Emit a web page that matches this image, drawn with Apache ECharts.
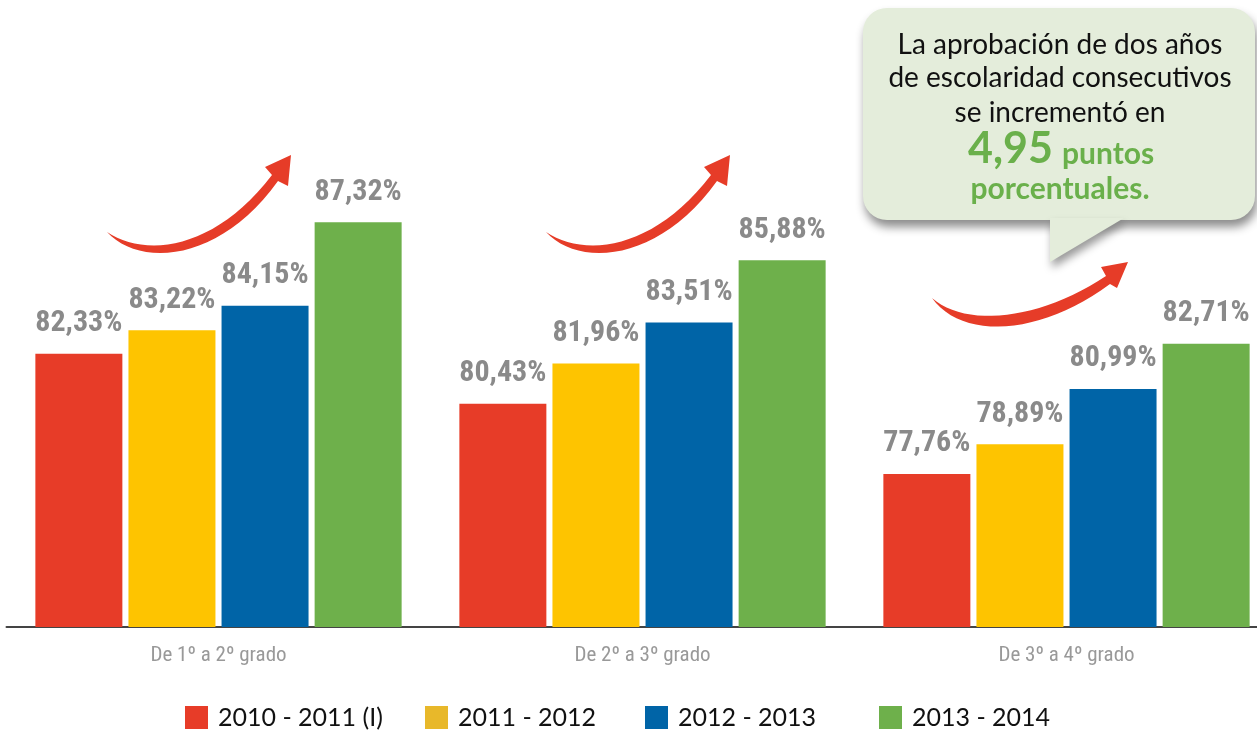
<!DOCTYPE html>
<html>
<head>
<meta charset="utf-8">
<script src="https://cdn.jsdelivr.net/npm/echarts@6/dist/echarts.min.js"></script>
<style>
  html, body { margin: 0; padding: 0; background: #fff; }
  #chart { width: 1257px; height: 731px; }
</style>
</head>
<body>
<div id="chart"></div>
<script>
var categories = ['De 1º a 2º grado', 'De 2º a 3º grado', 'De 3º a 4º grado'];
var seriesNames = ['2010 - 2011 (I)', '2011 - 2012', '2012 - 2013', '2013 - 2014'];
var seriesColors = ['#e73c28', '#fec400', '#0064a7', '#6eb04b'];
var legendColors = ['#e73c28', '#e8b82a', '#0064a7', '#6eb04b'];
var legendLeft = [185, 425, 645, 879];
var v2010 = [82.33, 80.43, 77.76];
var v2011 = [83.22, 81.96, 78.89];
var v2012 = [84.15, 83.51, 80.99];
var v2013 = [87.32, 85.88, 82.71];
var allValues = [v2010, v2011, v2012, v2013];

var narrow = "'Liberation Sans Narrow', 'Roboto Condensed', 'DejaVu Sans Condensed', sans-serif";
var plain = "'Lato', 'Open Sans', sans-serif";

function pct(p) {
    return p.value.toFixed(2).replace('.', ',') + '%';
}

// sample a cubic bezier into points (for the decorative arrows)
function bez(p0, p1, p2, p3) {
    var pts = [];
    for (var i = 0; i <= 24; i++) {
        var t = i / 24, u = 1 - t;
        pts.push([
            u * u * u * p0[0] + 3 * u * u * t * p1[0] + 3 * u * t * t * p2[0] + t * t * t * p3[0],
            u * u * u * p0[1] + 3 * u * u * t * p1[1] + 3 * u * t * t * p2[1] + t * t * t * p3[1]
        ]);
    }
    return pts;
}

function arrow(lower, head, upper, dx) {
    var pts = bez.apply(null, lower).concat(head).concat(bez.apply(null, upper));
    return {
        type: 'polygon',
        x: dx || 0,
        shape: { points: pts },
        style: { fill: '#e63c28' }
    };
}

var a1Lower = [[107, 232], [140, 268], [220, 262], [278, 181]];
var a1Head = [[288, 186], [291, 155], [265, 167]];
var a1Upper = [[272, 175], [215, 250], [145, 258], [107, 232]];
var a3Lower = [[932, 298], [962, 340], [1040, 336], [1110, 284]];
var a3Head = [[1117, 288], [1128, 262], [1101, 267]];
var a3Upper = [[1106, 276], [1040, 320], [966, 328], [932, 298]];

var series = seriesNames.map(function (name, i) {
    return {
        name: name,
        type: 'bar',
        data: allValues[i],
        barWidth: 87,
        barGap: '7%',
        itemStyle: { color: seriesColors[i] },
        label: {
            show: true,
            position: 'top',
            distance: 15,
            formatter: pct,
            color: '#8a8a8a',
            fontFamily: narrow,
            fontWeight: 'bold',
            fontSize: 30
        }
    };
});

// one legend per item so each sits where the reference has it
var legends = seriesNames.map(function (name, i) {
    return {
        data: [{ name: name, itemStyle: { color: legendColors[i] } }],
        left: legendLeft[i],
        top: 705,
        padding: 0,
        itemWidth: 23,
        itemHeight: 23,
        icon: 'rect',
        textStyle: { color: '#111', fontSize: 25, fontFamily: plain, padding: [0, 0, 0, 5] }
    };
});

var myChart = echarts.init(document.getElementById('chart'));
var option = {
    animation: false,
    grid: { left: 6.5, width: 1272, top: 20, bottom: 104, outerBoundsMode: 'none' },
    legend: legends,
    xAxis: {
        type: 'category',
        data: categories,
        axisTick: { show: false },
        axisLine: { lineStyle: { color: '#444', width: 2 } },
        axisLabel: { color: '#999', fontSize: 21, fontFamily: narrow, margin: 18 }
    },
    yAxis: {
        type: 'value',
        min: 71.95,
        max: 95,
        show: false,
        splitLine: { show: false }
    },
    series: series,
    graphic: [
        arrow(a1Lower, a1Head, a1Upper, 0),
        arrow(a1Lower, a1Head, a1Upper, 439),
        arrow(a3Lower, a3Head, a3Upper, 0),
        {
            type: 'rect',
            shape: { x: 863, y: 8, width: 392, height: 212, r: 24 },
            style: { fill: '#e4eddb', shadowBlur: 10, shadowOffsetY: 7, shadowOffsetX: 2, shadowColor: 'rgba(0,0,0,0.45)' }
        },
        {
            type: 'polygon',
            shape: { points: [[1050, 218], [1124, 218], [1050, 262]] },
            style: { fill: '#e4eddb', shadowBlur: 8, shadowOffsetY: 6, shadowOffsetX: 2, shadowColor: 'rgba(0,0,0,0.4)' }
        },
        { type: 'text', x: 1060, y: 45, style: { text: 'La aprobación de dos años', fill: '#111', font: '28px ' + plain, textAlign: 'center', textVerticalAlign: 'middle' } },
        { type: 'text', x: 1060, y: 78, style: { text: 'de escolaridad consecutivos', fill: '#111', font: '28px ' + plain, textAlign: 'center', textVerticalAlign: 'middle' } },
        { type: 'text', x: 1060, y: 113, style: { text: 'se incrementó en', fill: '#111', font: '28px ' + plain, textAlign: 'center', textVerticalAlign: 'middle' } },
        { type: 'text', x: 1053, y: 149, style: { text: '4,95', fill: '#6ab04b', font: 'bold 43px ' + plain, textAlign: 'right', textVerticalAlign: 'middle' } },
        { type: 'text', x: 1062, y: 154, style: { text: 'puntos', fill: '#6ab04b', font: 'bold 30px ' + plain, textAlign: 'left', textVerticalAlign: 'middle' } },
        { type: 'text', x: 1060, y: 189, style: { text: 'porcentuales.', fill: '#6ab04b', font: 'bold 30px ' + plain, textAlign: 'center', textVerticalAlign: 'middle' } }
    ]
};
myChart.setOption(option);
</script>
</body>
</html>
